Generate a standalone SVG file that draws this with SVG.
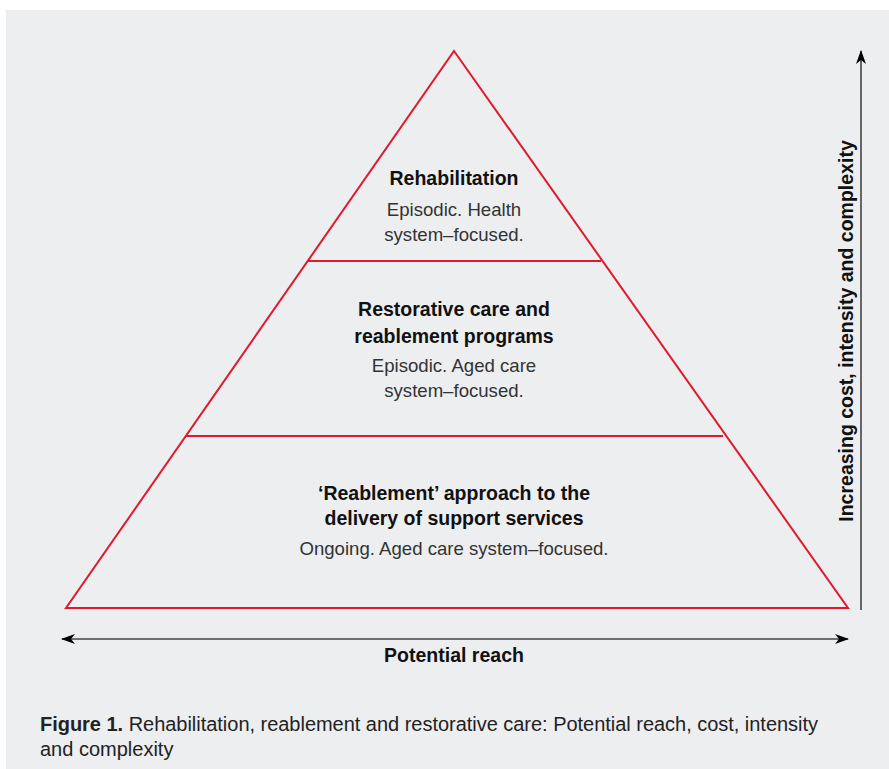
<svg xmlns="http://www.w3.org/2000/svg" width="889" height="769" viewBox="0 0 889 769">
  <defs>
    <marker id="arrow" viewBox="0 0 14 10" refX="13" refY="5" markerWidth="14" markerHeight="10" markerUnits="userSpaceOnUse" orient="auto-start-reverse">
      <path d="M0,0 L14,5 L0,10 L4,5 Z" fill="#000"/>
    </marker>
    <style>
      .tier { fill: none; stroke: #e0192d; stroke-width: 2; stroke-linejoin: miter; }
      .axis { fill: none; stroke: #444; stroke-width: 1.6; }
      .head { font-family: "Liberation Sans", Arial, sans-serif; font-weight: 700; font-size: 19.5px; fill: #111; text-anchor: middle; }
      .body { font-family: "Liberation Sans", Arial, sans-serif; font-weight: 400; font-size: 18.6px; fill: #333; text-anchor: middle; }
      .cap { font-family: "Liberation Sans", Arial, sans-serif; font-size: 20px; fill: #222; }
    </style>
  </defs>

  <rect x="0" y="0" width="889" height="769" fill="#ffffff"/>
  <rect x="6" y="10" width="883" height="759" fill="#edeef0"/>

  <!-- pyramid outline and tier dividers -->
  <g id="pyramid">
    <path class="tier" d="M454,51 L848,608 L66,608 Z"/>
    <line class="tier" x1="308" y1="261" x2="601" y2="261"/>
    <line class="tier" x1="186" y1="436" x2="723" y2="436"/>
  </g>

  <g id="tier-rehabilitation">
    <text class="head" x="454" y="185">Rehabilitation</text>
    <text class="body" x="454" y="216">Episodic. Health</text>
    <text class="body" x="454" y="241">system–focused.</text>
  </g>

  <g id="tier-restorative">
    <text class="head" x="454" y="316">Restorative care and</text>
    <text class="head" x="454" y="343">reablement programs</text>
    <text class="body" x="454" y="372">Episodic. Aged care</text>
    <text class="body" x="454" y="397">system–focused.</text>
  </g>

  <g id="tier-reablement">
    <text class="head" x="454" y="500">‘Reablement’ approach to the</text>
    <text class="head" x="454" y="525">delivery of support services</text>
    <text class="body" x="454" y="555">Ongoing. Aged care system–focused.</text>
  </g>

  <!-- axes -->
  <g id="connectors">
    <line class="axis" x1="62" y1="639" x2="848" y2="639" marker-start="url(#arrow)" marker-end="url(#arrow)"/>
    <line class="axis" x1="861" y1="610" x2="861" y2="51" marker-end="url(#arrow)"/>
  </g>

  <g id="axis-labels">
    <text class="head" x="454" y="662">Potential reach</text>
    <text class="head" transform="translate(853,331) rotate(-90)" x="0" y="0">Increasing cost, intensity and complexity</text>
  </g>

  <g id="caption">
    <text class="cap" x="40" y="731" textLength="778" lengthAdjust="spacing"><tspan font-weight="700">Figure 1.</tspan> Rehabilitation, reablement and restorative care: Potential reach, cost, intensity</text>
    <text class="cap" x="40" y="756">and complexity</text>
  </g>
</svg>
